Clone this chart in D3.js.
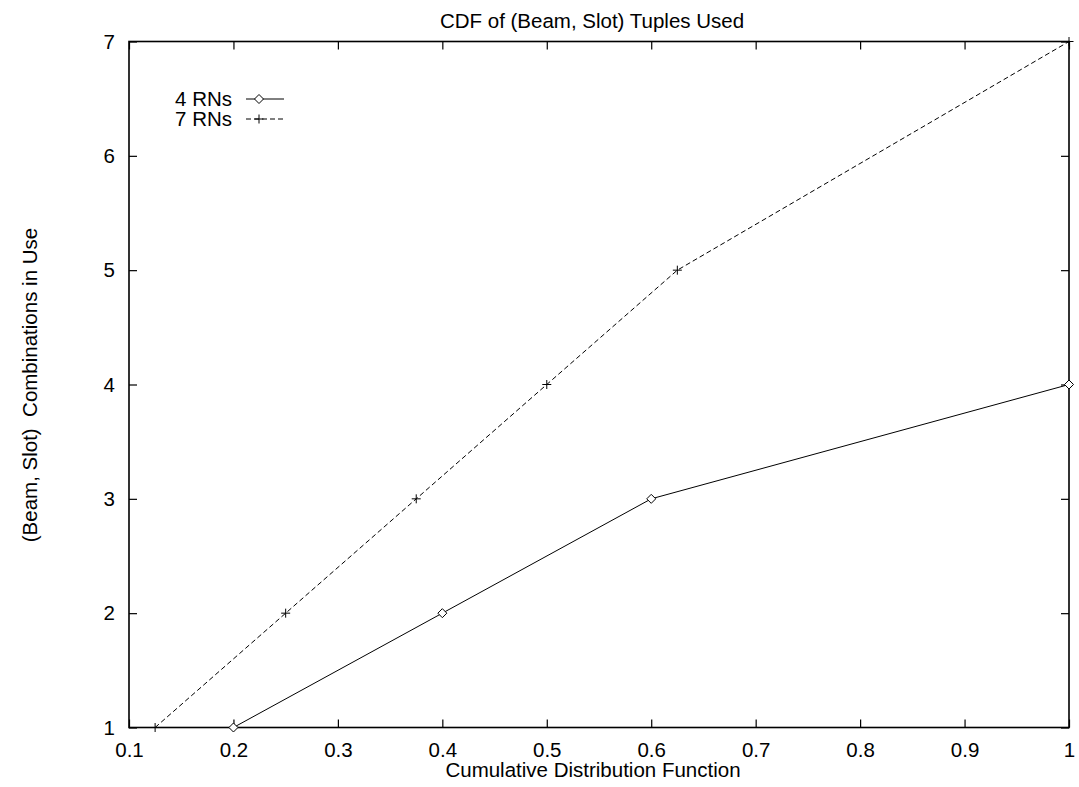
<!DOCTYPE html>
<html>
<head>
<meta charset="utf-8">
<script src="https://cdn.jsdelivr.net/npm/d3@7"></script>
<style>
  html, body { margin: 0; padding: 0; background: #fff; }
  svg { display: block; }
  text { font-family: "Liberation Sans", Arial, Helvetica, sans-serif; fill: #000; }
</style>
</head>
<body>
<script>
// ---- data ----
const xTicks = [0.1, 0.2, 0.3, 0.4, 0.5, 0.6, 0.7, 0.8, 0.9, 1];
const yTicks = [1, 2, 3, 4, 5, 6, 7];
const rn4X = [0.2, 0.4, 0.6, 1.0];
const rn4Y = [1, 2, 3, 4];
const rn7X = [0.125, 0.25, 0.375, 0.5, 0.625, 1.0];
const rn7Y = [1, 2, 3, 4, 5, 7];
const seriesNames = ["4 RNs", "7 RNs"];
const titleText = "CDF of (Beam, Slot) Tuples Used";
const xLabel = "Cumulative Distribution Function";
const yLabel = "(Beam, Slot)\u00a0 Combinations in Use";

// ---- layout ----
const W = 1079, H = 787;
const L = 129, R = 1069, T = 41.5, B = 727.5;
const FS = 20.5;

const svg = d3.select("body").append("svg").attr("width", W).attr("height", H);

const x = d3.scaleLinear().domain([0.1, 1]).range([L, R]);
const y = d3.scaleLinear().domain([1, 7]).range([B, T]);

const tickLen = 8;

const gB = svg.append("g").attr("transform", `translate(0,${B})`)
  .call(d3.axisBottom(x).tickValues(xTicks).tickSizeInner(-tickLen).tickSizeOuter(0).tickPadding(20)
    .tickFormat(d => d3.format("~g")(d)));
const gT = svg.append("g").attr("transform", `translate(0,${T})`)
  .call(d3.axisTop(x).tickValues(xTicks).tickSizeInner(-tickLen).tickSizeOuter(0).tickFormat(""));
const gL = svg.append("g").attr("transform", `translate(${L},0)`)
  .call(d3.axisLeft(y).tickValues(yTicks).tickSizeInner(-tickLen).tickSizeOuter(0).tickPadding(14)
    .tickFormat(d3.format("d")));
const gR = svg.append("g").attr("transform", `translate(${R},0)`)
  .call(d3.axisRight(y).tickValues(yTicks).tickSizeInner(-tickLen).tickSizeOuter(0).tickFormat(""));

[gB, gT, gL, gR].forEach(g => {
  g.select(".domain").remove();
  g.selectAll(".tick line").attr("stroke", "#000").attr("stroke-width", 1.2);
  g.selectAll(".tick text").attr("font-size", FS).attr("font-family", "Liberation Sans, Arial, sans-serif").attr("fill", "#000");
});
gB.selectAll(".tick text").attr("dy", "0.71em").attr("y", 15);

svg.append("rect").attr("x", L).attr("y", T).attr("width", R - L).attr("height", B - T)
  .attr("fill", "none").attr("stroke", "#000").attr("stroke-width", 1.6);

const s4 = rn4X.map((v, i) => [v, rn4Y[i]]);
const s7 = rn7X.map((v, i) => [v, rn7Y[i]]);
const line = d3.line().x(d => x(d[0])).y(d => y(d[1]));

svg.append("path").datum(s4).attr("d", line).attr("fill", "none").attr("stroke", "#000").attr("stroke-width", 1);
svg.append("path").datum(s7).attr("d", line).attr("fill", "none").attr("stroke", "#000").attr("stroke-width", 1)
  .attr("stroke-dasharray", "5,3");

const diamond = (cx, cy) => `M${cx - 4.5},${cy}L${cx},${cy - 4.5}L${cx + 4.5},${cy}L${cx},${cy + 4.5}Z`;
const plus = (cx, cy) => `M${cx - 4.5},${cy}H${cx + 4.5}M${cx},${cy - 4.5}V${cy + 4.5}`;

svg.append("g").selectAll("path").data(s4).join("path")
  .attr("d", d => diamond(x(d[0]), y(d[1])))
  .attr("fill", "#fff").attr("stroke", "#000").attr("stroke-width", 1);
svg.append("g").selectAll("path").data(s7).join("path")
  .attr("d", d => plus(x(d[0]), y(d[1])))
  .attr("fill", "none").attr("stroke", "#000").attr("stroke-width", 1);

const legY = [99, 119];
const legTextX = 232, legL = 246, legR = 284, legM = 259;
seriesNames.forEach((name, i) => {
  svg.append("text").attr("x", legTextX).attr("y", legY[i]).attr("dy", "0.36em")
    .attr("text-anchor", "end").attr("font-size", FS).text(name);
  const p = svg.append("line").attr("x1", legL).attr("x2", legR).attr("y1", legY[i]).attr("y2", legY[i])
    .attr("stroke", "#000").attr("stroke-width", 1);
  if (i === 1) p.attr("stroke-dasharray", "5,3");
  if (i === 0) {
    svg.append("path").attr("d", diamond(legM, legY[i])).attr("fill", "#fff").attr("stroke", "#000");
  } else {
    svg.append("path").attr("d", plus(legM, legY[i])).attr("fill", "none").attr("stroke", "#000");
  }
});

svg.append("text").attr("x", 592).attr("y", 28).attr("text-anchor", "middle")
  .attr("font-size", FS).text(titleText);
svg.append("text").attr("x", 593).attr("y", 777).attr("text-anchor", "middle")
  .attr("font-size", FS).text(xLabel);
svg.append("text").attr("transform", "translate(37,385) rotate(-90)").attr("text-anchor", "middle")
  .attr("font-size", FS).text(yLabel);
</script>
</body>
</html>
